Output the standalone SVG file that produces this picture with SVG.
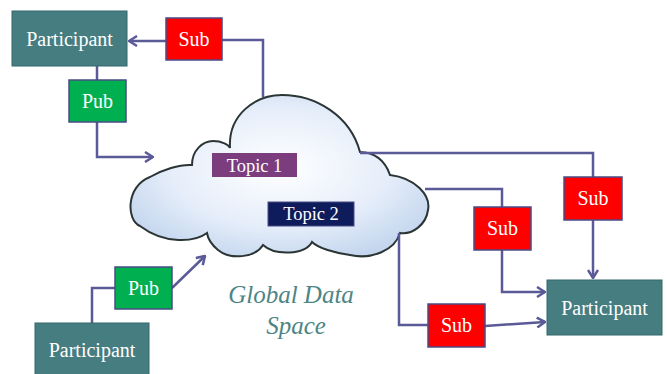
<svg xmlns="http://www.w3.org/2000/svg" width="667" height="374" viewBox="0 0 667 374">
<style>
.part{fill:#467d80;stroke:#33686b;stroke-width:1}
.sub{fill:#ff0000;stroke:#4b4b86;stroke-width:1.5}
.pub{fill:#00b050;stroke:#4b4b86;stroke-width:1.5}
.lbl{font-family:'Liberation Serif','DejaVu Serif',serif;font-size:20px;fill:#ffffff;text-anchor:middle}
.topic{font-family:'Liberation Serif','DejaVu Serif',serif;font-size:18.5px;fill:#ffffff;text-anchor:middle}
.conn{fill:none;stroke:#5a5a98;stroke-width:2.5;stroke-linejoin:miter}
.gds{font-family:'Liberation Serif','DejaVu Serif',serif;font-style:italic;font-size:25px;fill:#4d8585;text-anchor:middle}
</style>
<defs>
<radialGradient id="cg" cx="0.5" cy="0.45" r="0.6">
<stop offset="0" stop-color="#ffffff"/>
<stop offset="0.6" stop-color="#e6eefa"/>
<stop offset="1" stop-color="#c4d6ee"/>
</radialGradient>
<marker id="ah" viewBox="0 0 12 12" refX="11" refY="6" markerWidth="12" markerHeight="12" markerUnits="userSpaceOnUse" orient="auto">
<polyline points="3,1 11,6 3,11" fill="none" stroke="#5a5a98" stroke-width="2.5"/>
</marker>
</defs>

<g id="cloud">
<path d="M 140 226 C 126 220 126 186 150 177 C 162 170 180 164 192 165 C 192 150 203 141 213 141 C 222 141 229 145 230 148 C 228 115 255 95 282 95 C 315 95 350 115 360 152 C 374 152 385 160 390 175 C 415 178 431 195 428 210 C 426 225 412 235 400 233 C 395 250 372 260 350 255 C 335 253 318 248 312 242 C 305 255 275 256 263 245 C 255 258 230 260 218 250 C 212 245 208 240 207 233 C 195 242 165 245 140 226 Z" fill="url(#cg)" stroke="#2b3535" stroke-width="2"/>
</g>

<g id="connectors">
<polyline class="conn" points="222,40 263,40 263,97"/>
<line class="conn" x1="166" y1="41" x2="129" y2="41" marker-end="url(#ah)"/>
<line class="conn" x1="97" y1="66" x2="97" y2="80"/>
<polyline class="conn" points="97,122 97,157 153,157" marker-end="url(#ah)"/>
<polyline class="conn" points="92,323 92,288 115,288"/>
<line class="conn" x1="172" y1="288" x2="205" y2="256" marker-end="url(#ah)"/>
<polyline class="conn" points="360,153 593,153 593,177"/>
<line class="conn" x1="593" y1="220" x2="593" y2="278" marker-end="url(#ah)"/>
<polyline class="conn" points="425,189 502,189 502,207"/>
<polyline class="conn" points="502,250 502,292 545,292" marker-end="url(#ah)"/>
<polyline class="conn" points="399,233 399,325 428,325"/>
<line class="conn" x1="485" y1="326" x2="545" y2="322" marker-end="url(#ah)"/>
</g>

<g id="topic1">
<rect x="212" y="153" width="85" height="24" fill="#7b3d7e"/>
<text class="topic" x="254.5" y="172">Topic 1</text>
</g>
<g id="topic2">
<rect x="268" y="202" width="86" height="24" fill="#0f1c5c" stroke="#4b4b86" stroke-width="1"/>
<text class="topic" x="311" y="220">Topic 2</text>
</g>

<g id="gds">
<text class="gds" x="291" y="303">Global Data</text>
<text class="gds" x="296" y="334">Space</text>
</g>

<g id="participant-top">
<rect class="part" x="12" y="11" width="115" height="55"/>
<text class="lbl" x="69.5" y="46">Participant</text>
</g>
<g id="sub-top">
<rect class="sub" x="166" y="18" width="56" height="42"/>
<text class="lbl" x="194" y="46">Sub</text>
</g>
<g id="pub-top">
<rect class="pub" x="69" y="80" width="57" height="42"/>
<text class="lbl" x="97.5" y="108">Pub</text>
</g>
<g id="pub-bottom">
<rect class="pub" x="115" y="267" width="57" height="42"/>
<text class="lbl" x="143.5" y="295">Pub</text>
</g>
<g id="participant-bottom">
<rect class="part" x="35" y="323" width="114" height="55"/>
<text class="lbl" x="92" y="357">Participant</text>
</g>
<g id="sub-right-top">
<rect class="sub" x="564" y="177" width="58" height="43"/>
<text class="lbl" x="593" y="205">Sub</text>
</g>
<g id="sub-right-mid">
<rect class="sub" x="474" y="207" width="57" height="43"/>
<text class="lbl" x="502.5" y="235">Sub</text>
</g>
<g id="sub-right-bottom">
<rect class="sub" x="428" y="304" width="57" height="43"/>
<text class="lbl" x="456.5" y="332">Sub</text>
</g>
<g id="participant-right">
<rect class="part" x="547" y="280" width="115" height="55"/>
<text class="lbl" x="604.5" y="315">Participant</text>
</g>
</svg>
